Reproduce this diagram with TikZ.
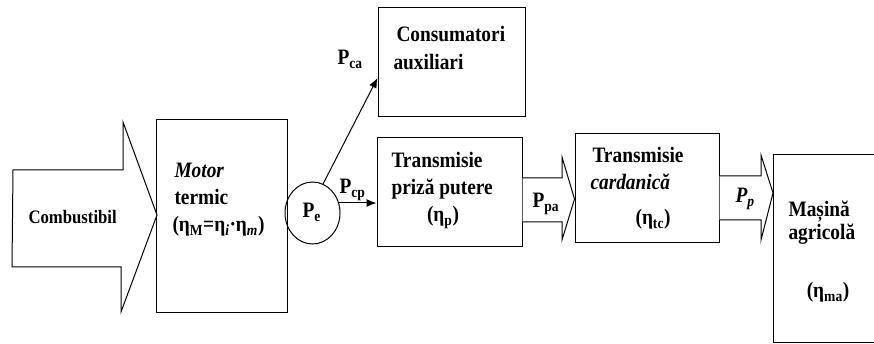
\documentclass[tikz,border=0pt]{standalone}
\usepackage{fontspec}
\setmainfont[FakeStretch=0.88]{Liberation Serif}
\usetikzlibrary{arrows.meta,calc,shapes.geometric}
\begin{document}
\begin{tikzpicture}[x=1pt,y=-1pt,line width=1pt,
  box/.style={draw,rectangle,inner sep=0pt},
  txt/.style={font=\fontsize{22}{26}\selectfont\bfseries,inner sep=0pt,anchor=base west},
  ctxt/.style={font=\fontsize{22}{26}\selectfont\bfseries,inner sep=0pt,anchor=base},
  lbl/.style={font=\fontsize{22}{26}\selectfont\bfseries,inner sep=0pt,anchor=base west},
  arr/.style={-{Latex[length=10pt,width=8pt]}},
  barrow/.style={draw,fill=white,line join=miter}]
\useasboundingbox (0,0) rectangle (874,344);
\clip (0,0) rectangle (874,344);
% boxes
\node[box,minimum width=131,minimum height=192] (motor) at (221.5,216) {};
\node[box,minimum width=147,minimum height=109] (cons) at (451.5,62.5) {};
\node[box,minimum width=145,minimum height=109] (tpp) at (449.5,192.5) {};
\node[box,minimum width=144,minimum height=109] (tc) at (647,188.5) {};
\node[box,minimum width=130,minimum height=188,anchor=north west] (ma) at (773,154) {};
\node[draw,ellipse,minimum width=55,minimum height=62,inner sep=0pt] (pe) at (312.5,213) {};
\node[lbl] (petxt) at (302,218) {P\textsubscript{e}};
% block arrows
\draw[barrow] (13,170) -- (123,170) -- (123,122) -- (157,215) -- (121,312) -- (121,267) -- (12,267) -- cycle;
\node[font=\fontsize{19}{22}\selectfont\bfseries,inner sep=0pt,anchor=base west] (comb) at (28,224) {Combustibil};
\draw[barrow] (tpp.east |- 0,178) -- (562,178) -- (562,157) -- (tc.west |- 0,199) -- (562,240) -- (562,222) -- (tpp.east |- 0,222);
\node[lbl] (ppa) at (532,208) {P\textsubscript{pa}};
\draw[barrow] (tc.east |- 0,176) -- (761,176) -- (761,155) -- (ma.west |- 0,193) -- (761,240) -- (761,220) -- (tc.east |- 0,220);
\node[lbl,font=\fontsize{22}{26}\selectfont\bfseries\itshape] (pp) at (735,203) {P\textsubscript{p}};
% connectors
\coordinate (consin) at ($(cons.south west)!0.36!(cons.north west)$);
\draw[arr] (pe.70) -- (consin);
\node[lbl] (pca) at (337,65) {P\textsubscript{ca}};
\coordinate (pcpstart) at ($(pe.east)+(-1.5,-10)$);
\draw[arr] (pcpstart) -- (pcpstart -| tpp.west);
\node[lbl] (pcp) at (339,194) {P\textsubscript{cp}};
% texts
\node[txt] (m1) at (174,178) {\textit{Motor}};
\node[txt] (m2) at (174,205) {termic};
\node[txt] (m3) at (172,232) {(η\textsubscript{M}=η\textsubscript{\textit{i}}·η\textsubscript{\textit{m}})};
\node[txt] (c1) at (396,42) {Consumatori};
\node[txt] (c2) at (393,70) {auxiliari};
\node[txt] (t1) at (391,168) {Transmisie};
\node[txt] (t2) at (391,195) {priză putere};
\node[ctxt] (etap) at (443,222) {(η\textsubscript{p})};
\node[txt] (k1) at (592,163) {Transmisie};
\node[txt] (k2) at (590,190) {\textit{cardanică}};
\node[ctxt] (etatc) at (653,225) {(η\textsubscript{tc})};
\node[txt] (a1) at (788,217) {Mașină};
\node[txt] (a2) at (788,240) {agricolă};
\node[ctxt] (etama) at (828,298) {(η\textsubscript{ma})};
\end{tikzpicture}
\end{document}
